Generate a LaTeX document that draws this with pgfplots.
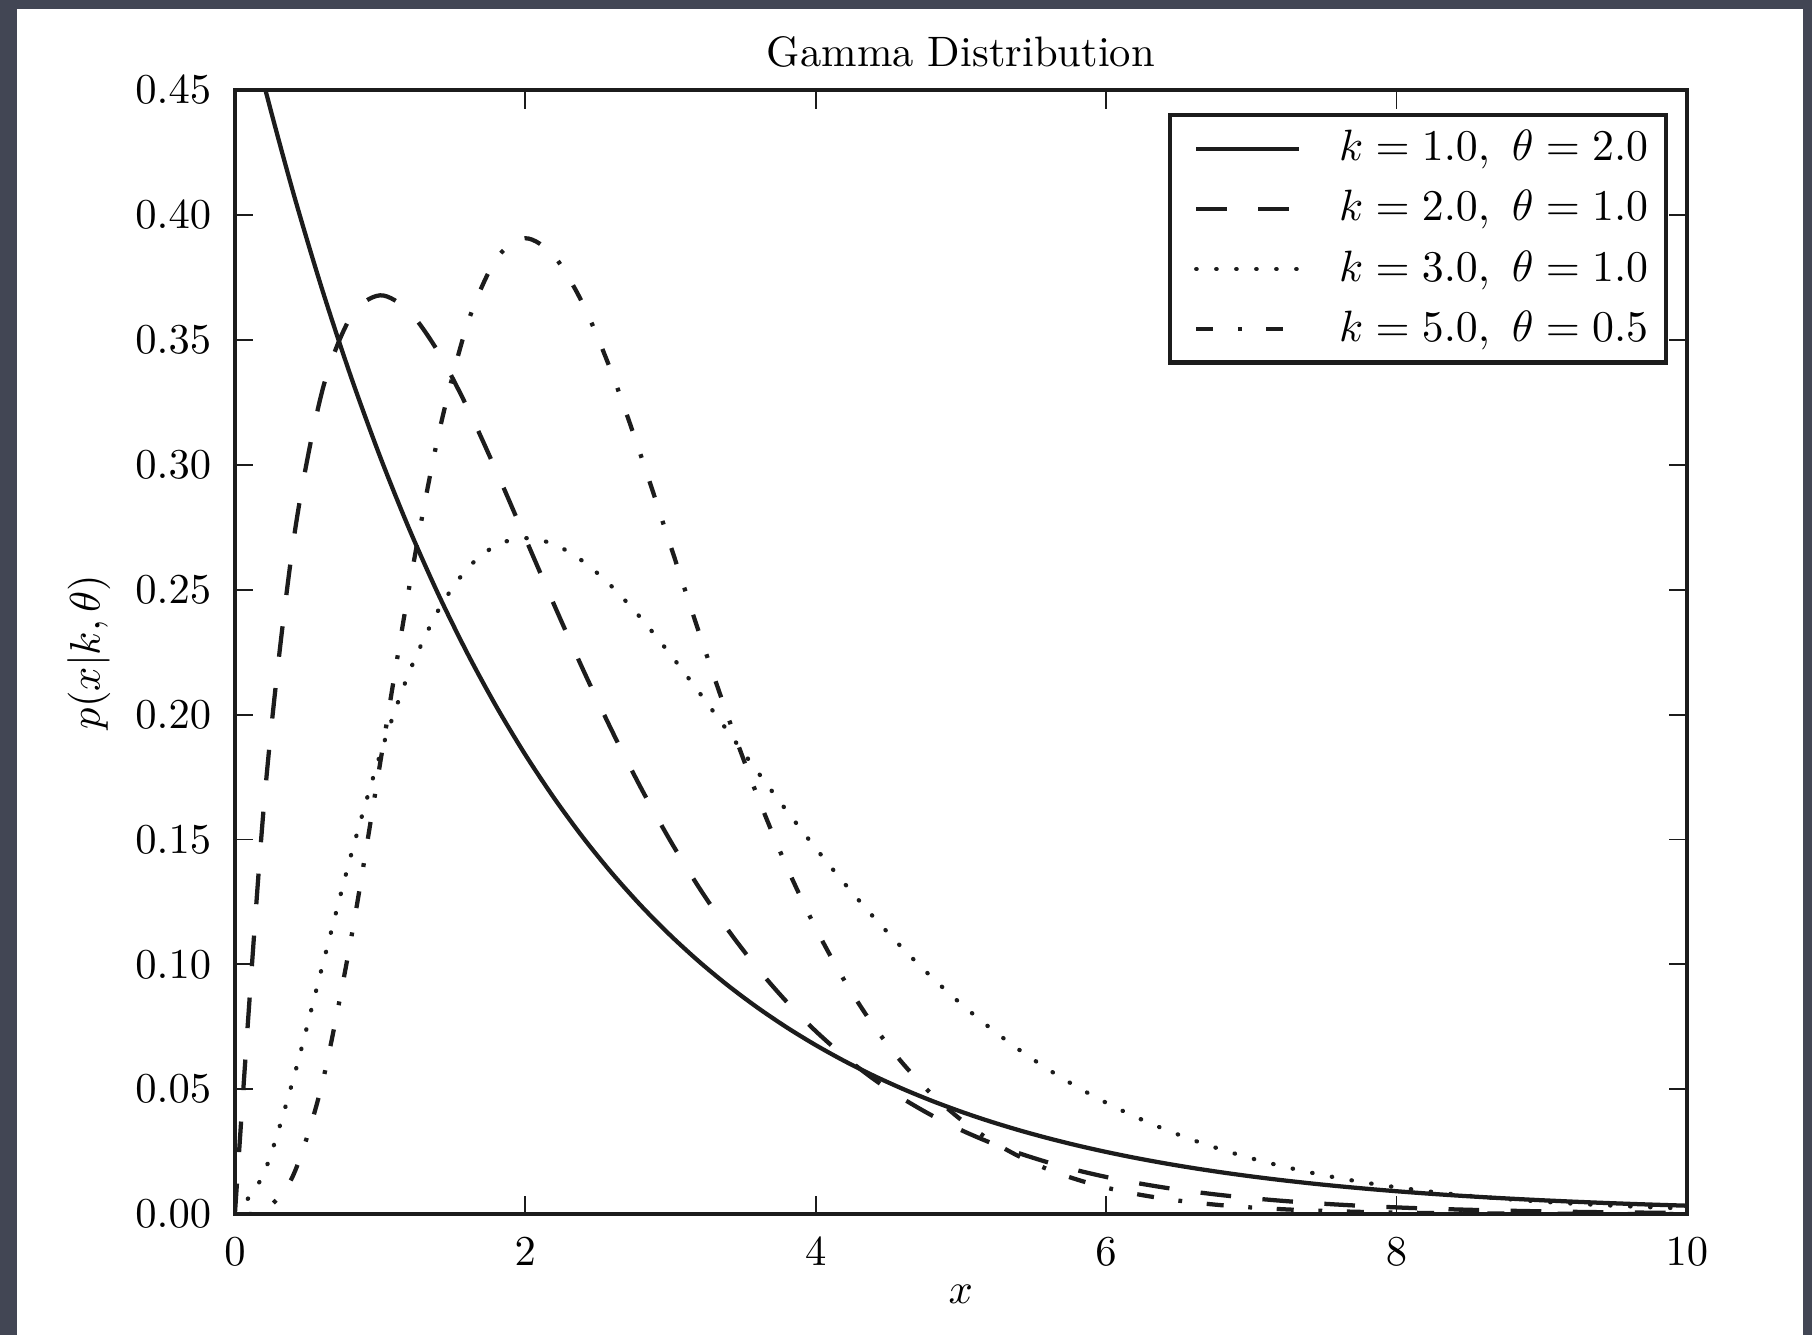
\RequirePackage{fix-cm}
\documentclass[border=0pt]{standalone}
\usepackage{pgfplots}
\pgfplotsset{compat=1.18}
\definecolor{slate}{RGB}{66,70,84}
\definecolor{ink}{RGB}{28,28,28}
\begin{document}
\begin{tikzpicture}
% slate frame and white panel behind the figure
\fill[slate] (-55.2pt,-28.4pt) rectangle (370.6pt,285.3pt);
\fill[white] (-51.2pt,-28.4pt) rectangle (368.5pt,283.2pt);
\begin{axis}[
  scale only axis, width=341.2pt, height=264.1pt,
  xmin=0, xmax=10, ymin=0, ymax=0.45,
  xtick={0,2,4,6,8,10},
  ytick={0,0.05,0.1,0.15,0.2,0.25,0.3,0.35,0.4,0.45},
  scaled y ticks=false,
  y tick label style={/pgf/number format/.cd, fixed, fixed zerofill, precision=2, /tikz/.cd},
  xticklabel style={inner sep=0pt, yshift=-5.4pt},
  yticklabel style={inner sep=0pt, xshift=-5.4pt},
  tick align=inside, tick pos=both,
  major tick length=4.3pt,
  tick style={line width=0.45pt, ink},
  axis line style={line width=1pt, ink},
  title={Gamma Distribution},
  title style={at={(0.5,1)}, anchor=base, yshift=-0.35pt, inner sep=0pt},
  xlabel={$x$},
  xlabel style={at={(axis description cs:0.5,-0.0791)}, anchor=base, inner sep=0pt},
  ylabel={$p(x|k,\theta)$},
  ylabel style={at={(axis description cs:-0.1005,0.5)}, anchor=center, inner sep=0pt},
  legend image code/.code={\path (0pt,0pt); \draw[#1] (2.4pt,0pt) -- (26.6pt,0pt);},
  legend cell align=left,
  legend style={at={(1,1)}, anchor=north east, xshift=-4.4pt, yshift=-5.4pt,
    draw=ink, line width=1pt, fill=white,
    inner xsep=3.2pt, inner ysep=2.5pt, row sep=3.5pt, column sep=7.9pt,
    font=\fontsize{10.3pt}{12pt}\selectfont,
    nodes={inner sep=1pt}},
]
% k = 1, theta = 2
\addplot[ink, line width=1pt, smooth] coordinates {
(0,0.5) (0.2,0.452419) (0.4,0.409365) (0.6,0.370409) (0.8,0.335160) (1.0,0.303265)
(1.2,0.274406) (1.4,0.248293) (1.6,0.224664) (1.8,0.203285) (2.0,0.183940)
(2.2,0.166436) (2.4,0.150597) (2.6,0.136266) (2.8,0.123298) (3.0,0.111565)
(3.2,0.100948) (3.4,0.091342) (3.6,0.082649) (3.8,0.074785) (4.0,0.067668)
(4.2,0.061228) (4.4,0.055401) (4.6,0.050130) (4.8,0.045359) (5.0,0.041042)
(5.2,0.037137) (5.4,0.033603) (5.6,0.030405) (5.8,0.027512) (6.0,0.024894)
(6.2,0.022525) (6.4,0.020381) (6.6,0.018442) (6.8,0.016687) (7.0,0.015099)
(7.2,0.013662) (7.4,0.012362) (7.6,0.011185) (7.8,0.010121) (8.0,0.009158)
(8.2,0.008287) (8.4,0.007498) (8.6,0.006785) (8.8,0.006139) (9.0,0.005554)
(9.2,0.005026) (9.4,0.004548) (9.6,0.004115) (9.8,0.003724) (10.0,0.003369)
};
\addlegendentry{$k=1.0,\ \theta=2.0$}
% k = 2, theta = 1
\addplot[ink, line width=1pt, smooth, dash pattern=on 7.2pt off 7.4pt] coordinates {
(0,0) (0.2,0.163746) (0.4,0.268128) (0.6,0.329287) (0.8,0.359463) (1.0,0.367879)
(1.2,0.361433) (1.4,0.345236) (1.6,0.323035) (1.8,0.297538) (2.0,0.270671)
(2.2,0.243767) (2.4,0.217723) (2.6,0.193112) (2.8,0.170268) (3.0,0.149361)
(3.2,0.130438) (3.4,0.113468) (3.6,0.098366) (3.8,0.085010) (4.0,0.073263)
(4.2,0.062983) (4.4,0.054020) (4.6,0.046240) (4.8,0.039503) (5.0,0.033690)
(5.2,0.028688) (5.4,0.024392) (5.6,0.020709) (5.8,0.017561) (6.0,0.014873)
(6.2,0.012582) (6.4,0.010634) (6.6,0.008978) (6.8,0.007572) (7.0,0.006383)
(7.2,0.005376) (7.4,0.004524) (7.6,0.003803) (7.8,0.003196) (8.0,0.002684)
(8.2,0.002252) (8.4,0.001889) (8.6,0.001583) (8.8,0.001326) (9.0,0.001111)
(9.2,0.000930) (9.4,0.000778) (9.6,0.000650) (9.8,0.000544) (10.0,0.000454)
};
\addlegendentry{$k=2.0,\ \theta=1.0$}
% k = 3, theta = 1
\addplot[ink, line width=1pt, smooth, line cap=round, dash pattern=on 0.1pt off 4.6pt] coordinates {
(0,0) (0.2,0.016375) (0.4,0.053626) (0.6,0.098786) (0.8,0.143785) (1.0,0.183940)
(1.2,0.216860) (1.4,0.241665) (1.6,0.258428) (1.8,0.267784) (2.0,0.270671)
(2.2,0.268144) (2.4,0.261268) (2.6,0.251046) (2.8,0.238375) (3.0,0.224042)
(3.2,0.208701) (3.4,0.192896) (3.6,0.177059) (3.8,0.161519) (4.0,0.146525)
(4.2,0.132264) (4.4,0.118844) (4.6,0.106352) (4.8,0.094807) (5.0,0.084224)
(5.2,0.074589) (5.4,0.065858) (5.6,0.057985) (5.8,0.050927) (6.0,0.044618)
(6.2,0.039004) (6.4,0.034029) (6.6,0.029627) (6.8,0.025745) (7.0,0.022341)
(7.2,0.019354) (7.4,0.016739) (7.6,0.014451) (7.8,0.012464) (8.0,0.010736)
(8.2,0.009233) (8.4,0.007934) (8.6,0.006807) (8.8,0.005834) (9.0,0.005000)
(9.2,0.004278) (9.4,0.003657) (9.6,0.003120) (9.8,0.002666) (10.0,0.002270)
};
\addlegendentry{$k=3.0,\ \theta=1.0$}
% k = 5, theta = 0.5
\addplot[ink, line width=1pt, smooth, dash pattern=on 4pt off 5.8pt on 0.9pt off 5.8pt] coordinates {
(0,0) (0.2,0.001430) (0.4,0.015337) (0.6,0.052047) (0.8,0.110262) (1.0,0.180447)
(1.2,0.250817) (1.4,0.311477) (1.6,0.356184) (1.8,0.382448) (2.0,0.390730)
(2.2,0.383461) (2.4,0.364070) (2.6,0.336152) (2.8,0.303067) (3.0,0.267705)
(3.2,0.232303) (3.4,0.198451) (3.6,0.167198) (3.8,0.139135) (4.0,0.114504)
(4.2,0.093296) (4.4,0.075328) (4.6,0.060320) (4.8,0.047938) (5.0,0.037833)
(5.2,0.029668) (5.4,0.023128) (5.6,0.017930) (5.8,0.013830) (6.0,0.010617)
(6.2,0.008114) (6.4,0.006176) (6.6,0.004682) (6.8,0.003537) (7.0,0.002662)
(7.2,0.001997) (7.4,0.001494) (7.6,0.001114) (7.8,0.000829) (8.0,0.000615)
(8.2,0.000455) (8.4,0.000336) (8.6,0.000247) (8.8,0.000182) (9.0,0.000133)
(9.2,0.000098) (9.4,0.000071) (9.6,0.000052) (9.8,0.000038) (10.0,0.000028)
};
\addlegendentry{$k=5.0,\ \theta=0.5$}
\end{axis}
\pgfresetboundingbox
\path (-55.2pt,-28.4pt) rectangle (370.6pt,285.3pt);
\end{tikzpicture}
\end{document}
